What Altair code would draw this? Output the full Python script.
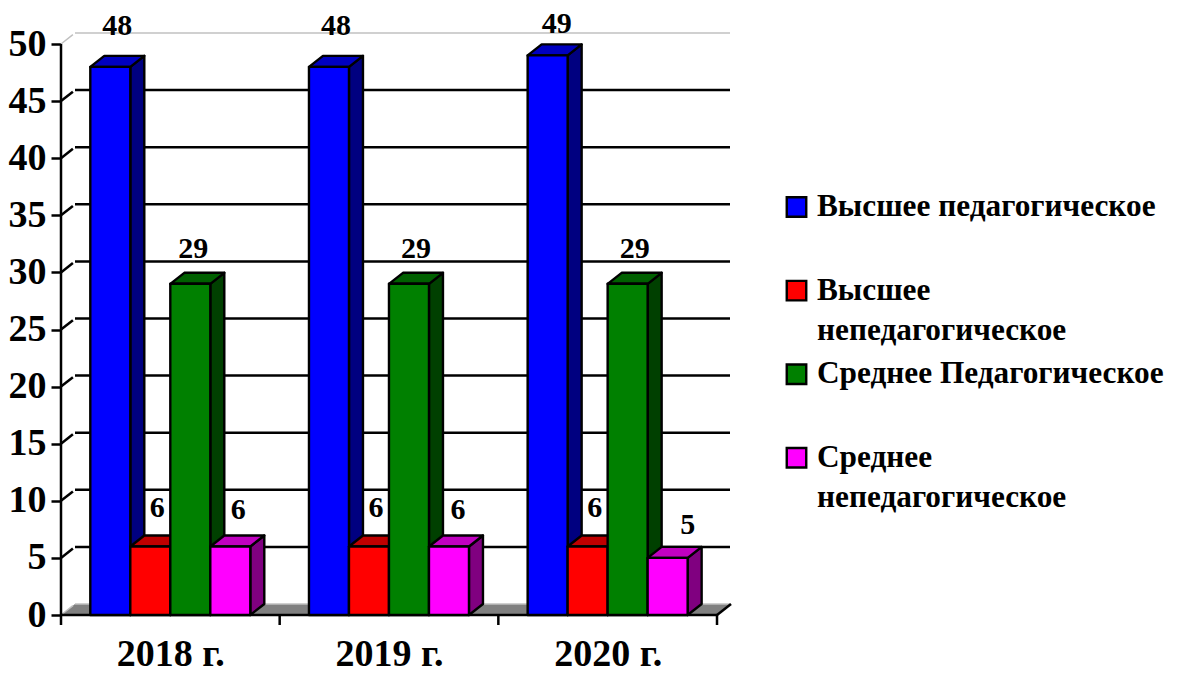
import altair as alt
import pandas as pd

# ---- chart values ----
years = ["2018 г.", "2019 г.", "2020 г."]
series = ["Высшее педагогическое", "Высшее непедагогическое", "Среднее Педагогическое", "Среднее непедагогическое"]
v_high_ped = [48, 48, 49]
v_high_non = [6, 6, 6]
v_mid_ped = [29, 29, 29]
v_mid_non = [6, 6, 5]
values = [v_high_ped, v_high_non, v_mid_ped, v_mid_non]
y_ticks = list(range(0, 55, 5))
front = ["#0000FF", "#FF0000", "#008000", "#FF00FF"]
side = ["#000080", "#800000", "#004000", "#800080"]
top = ["#0000C0", "#C00000", "#006000", "#C000C0"]
legend_lines = [["Высшее педагогическое"], ["Высшее", "непедагогическое"], ["Среднее Педагогическое"], ["Среднее", "непедагогическое"]]

# ---- geometry in data units (3-D look) ----
PX_X, PX_Y = 218.67, 11.42
W, H = 669, 582
XMAX, YMAX = W / PX_X, H / PX_Y
DX, DY = 14 / PX_X, 11 / PX_Y
BW, START = 40 / PX_X, 29.3 / PX_X
FONT = "Liberation Serif"

# small label placement nudges in pixels: (group, series) -> (right, down)
nudges = {(0, 0): (0, -3), (1, 0): (0, -3), (2, 0): (2, 7),
          (0, 2): (-4, 3), (1, 2): (0, 3), (2, 2): (0, 3),
          (0, 3): (1, 2), (1, 3): (2, 2), (2, 3): (13, 5)}

polys = []
def add(pid, color, pts):
    for x, a, b in pts:
        polys.append(dict(pid=pid, fill=color, x=x, y=a, y2=b))

labels = []
for g in range(3):
    for s in range(4):
        v = values[s][g]
        x0 = g + START + s * BW
        x1 = x0 + BW
        pid = f"{g}-{s}"
        add(pid + "a", side[s], [(x1, v, 0), (x1 + DX, v + DY, DY)])
        add(pid + "b", top[s], [(x0, v, v), (x0 + DX, v + DY, v), (x1, v + DY, v), (x1 + DX, v + DY, v + DY)])
        add(pid + "c", front[s], [(x0, v, 0), (x1, v, 0)])
        nx, ny = nudges.get((g, s), (0, 0))
        labels.append(dict(x=(x0 + x1) / 2 + nx / PX_X, y=v - ny / PX_Y, t=str(v)))

poly_df = pd.DataFrame(polys)
label_df = pd.DataFrame(labels)
floor_df = pd.DataFrame([
    dict(x=0, y=0, y2=0), dict(x=DX, y=DY, y2=0),
    dict(x=3, y=DY, y2=0), dict(x=3 + DX, y=DY, y2=DY)])

xs = alt.Scale(domain=[0, XMAX], nice=False, zero=False)
ys = alt.Scale(domain=[0, YMAX], nice=False, zero=False)
label_expr = "[" + ",".join(f"'{y}'" for y in years) + "][floor(datum.value)]"
x_axis = alt.Axis(
    title=None, values=[0.5, 1.5, 2.5], labelExpr=label_expr, grid=False, domain=False, ticks=False,
    labelFont=FONT, labelFontWeight="bold", labelFontSize=38, labelColor="black",
    labelPadding=20, labelOverlap=False, labelFlush=False)
y_axis = alt.Axis(
    title=None, values=y_ticks, grid=False, domain=False, tickSize=10, tickWidth=2.5, tickColor="black",
    labelFont=FONT, labelFontWeight="bold", labelFontSize=38, labelColor="black",
    labelPadding=5, labelOverlap=False, labelFlush=False)
def X(f="x"):
    return alt.X(f"{f}:Q", scale=xs, axis=x_axis)
def Y(f="y"):
    return alt.Y(f"{f}:Q", scale=ys, axis=y_axis)

# grid
grid_df = pd.DataFrame([dict(v=v, x=DX, x2=XMAX, y=v + DY) for v in y_ticks])
g_black = alt.Chart(grid_df[(grid_df.v > 0) & (grid_df.v < 50)]).mark_rule(color="black", strokeWidth=2.5).encode(
    x=X(), x2="x2:Q", y=Y())
g_top = alt.Chart(grid_df[grid_df.v == 50]).mark_rule(color="#C0C0C0", strokeWidth=1.5).encode(x=X(), x2="x2:Q", y=Y())
g_back = alt.Chart(grid_df[grid_df.v == 0]).mark_rule(color="#C0C0C0", strokeWidth=1.5).encode(x=X(), x2="x2:Q", y=Y())

diag = pd.DataFrame(
    [dict(k=v, x=0, y=v) for v in y_ticks] + [dict(k=v, x=DX * 0.85, y=v + DY * 0.85) for v in y_ticks])
d_black = alt.Chart(diag[(diag.k > 0) & (diag.k < 50)]).mark_line(color="black", strokeWidth=2.5).encode(
    x=X(), y=Y(), detail="k:N")
d_gray = alt.Chart(diag[diag.k.isin([0, 50])]).mark_line(color="#C0C0C0", strokeWidth=1.5).encode(
    x=X(), y=Y(), detail="k:N")

floor = alt.Chart(floor_df).mark_area(color="#808080").encode(x=X(), y=Y(), y2="y2:Q")

bars = alt.Chart(poly_df).mark_area(stroke="black", strokeWidth=2.4, strokeJoin="round", opacity=1).encode(
    x=X(), y=Y(), y2="y2:Q", detail="pid:N", fill=alt.Fill("fill:N", scale=None))

txt = alt.Chart(label_df).mark_text(font=FONT, fontWeight="bold", fontSize=30, dx=7, dy=-38, color="black").encode(
    x=X(), y=Y(), text="t:N")

# axes
y_line = alt.Chart(pd.DataFrame(dict(x=[0], y=[0], y2=[50]))).mark_rule(color="black", strokeWidth=2.5).encode(
    x=X(), y=Y(), y2="y2:Q")
x_line = alt.Chart(pd.DataFrame(dict(x=[0], x2=[3], y=[0]))).mark_rule(color="black", strokeWidth=2.5).encode(
    x=X(), x2="x2:Q", y=Y())
x_ticks = alt.Chart(pd.DataFrame(dict(x=[0, 1, 2, 3]))).mark_rule(color="black", strokeWidth=2.5).encode(
    x=X(), y=alt.value(H), y2=alt.value(H + 10))
x_end = alt.Chart(pd.DataFrame(dict(x=[3, 3 + DX], y=[0, DY]))).mark_line(color="black", strokeWidth=2.5).encode(
    x=X(), y=Y())

# legend
LX, LY0, LSTEP, LLINE = 735.5, 174, 83.6, 40
sym_rows, txt_rows = [], []
for i, lines in enumerate(legend_lines):
    yy = LY0 + i * LSTEP
    sym_rows.append(dict(name=series[i], fill=front[i], px=LX, py=yy))
    for j, line in enumerate(lines):
        txt_rows.append(dict(t=line, px=LX + 20.5, py=yy + j * LLINE))
leg_sym = alt.Chart(pd.DataFrame(sym_rows)).mark_square(size=380, stroke="black", strokeWidth=2.4, opacity=1).encode(
    x=alt.X("px:Q", scale=None, axis=None), y=alt.Y("py:Q", scale=None, axis=None),
    fill=alt.Fill("fill:N", scale=None))
leg_txt = alt.Chart(pd.DataFrame(txt_rows)).mark_text(
    font=FONT, fontWeight="bold", fontSize=31.3, align="left", baseline="middle", color="black").encode(
    x=alt.X("px:Q", scale=None, axis=None), y=alt.Y("py:Q", scale=None, axis=None), text="t:N")

plot = alt.layer(floor, g_back, g_top, g_black, d_gray, d_black, y_line, x_line, x_ticks, x_end, bars, txt)
chart = alt.layer(plot, leg_sym, leg_txt).resolve_scale(x="independent", y="independent").resolve_axis(
    x="independent", y="independent").properties(
    width=W, height=H,
    padding={"left": 53, "top": 25, "right": 443, "bottom": 60},
    autosize=alt.AutoSizeParams(type="none"),
).configure_view(stroke=None)
chart.save("out.html", embed_options={"renderer": "svg", "actions": False})
